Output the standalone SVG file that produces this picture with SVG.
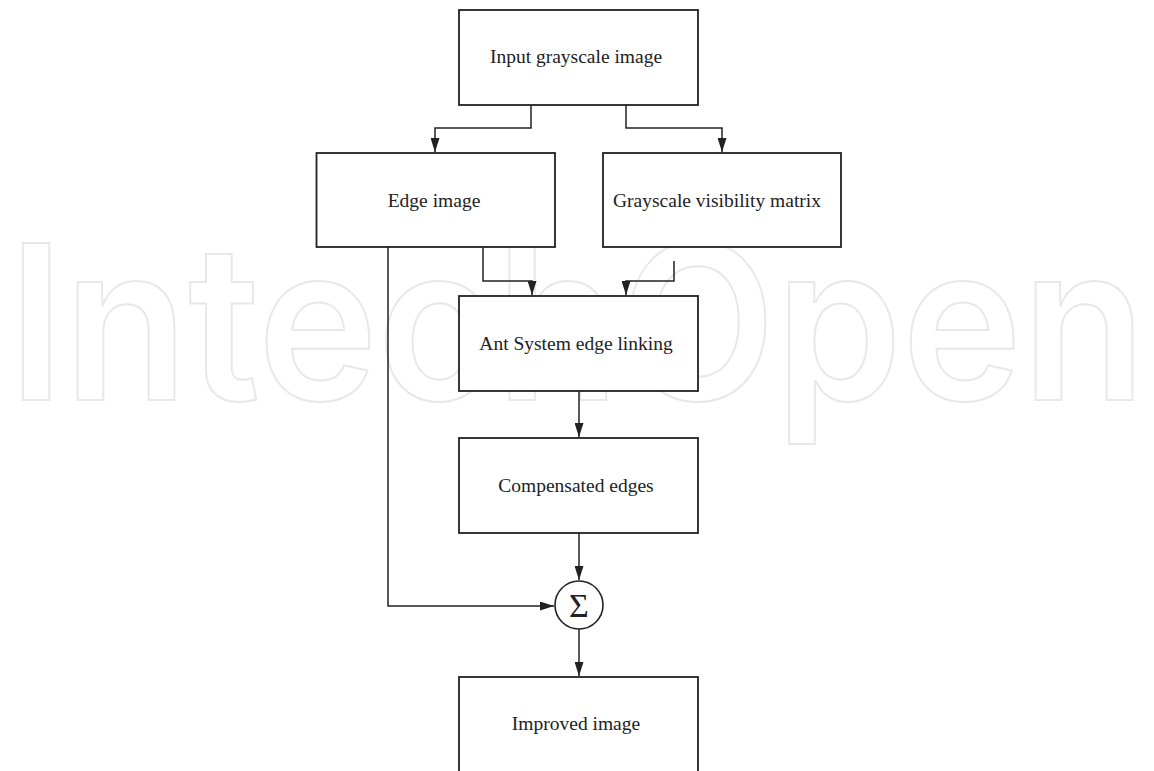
<svg xmlns="http://www.w3.org/2000/svg" width="1154" height="771" viewBox="0 0 1154 771">
<style>
.box{fill:#fff;stroke:#222;stroke-width:1.8}
.lbl{font-family:"Liberation Serif","Times New Roman",serif;font-size:19.5px;fill:#222;text-anchor:middle}
.conn{fill:none;stroke:#222;stroke-width:1.5}
.wm{font-family:Inter,"DejaVu Sans",sans-serif;font-size:216px;font-weight:600;fill:none;stroke:#e8e8e8;stroke-width:2}
</style>
<defs>
<marker id="arr" markerUnits="userSpaceOnUse" markerWidth="14" markerHeight="9" refX="14" refY="4.5" orient="auto">
<path d="M0,0 L14,4.5 L0,9 z" fill="#222"/>
</marker>
</defs>
<rect width="1154" height="771" fill="#fff"/>
<text class="wm" x="8" y="400" textLength="1138" lengthAdjust="spacingAndGlyphs">IntechOpen</text>
<g id="connectors">
<path class="conn" d="M531,105 V128 H435 V152" marker-end="url(#arr)"/>
<path class="conn" d="M626,105 V128 H722 V152" marker-end="url(#arr)"/>
<path class="conn" d="M483,247 V281 H532 V295" marker-end="url(#arr)"/>
<path class="conn" d="M674,261 V281 H626 V295" marker-end="url(#arr)"/>
<path class="conn" d="M388,247 V606 H554" marker-end="url(#arr)"/>
<path class="conn" d="M579,391 V437" marker-end="url(#arr)"/>
<path class="conn" d="M579,533 V580" marker-end="url(#arr)"/>
<path class="conn" d="M579,629 V676" marker-end="url(#arr)"/>
</g>
<g id="input">
<rect class="box" x="459" y="10" width="239" height="95"/>
<text class="lbl" x="576" y="63">Input grayscale image</text>
</g>
<g id="edge">
<rect class="box" x="316.5" y="153" width="238.5" height="94"/>
<text class="lbl" x="434" y="207">Edge image</text>
</g>
<g id="visibility">
<rect class="box" x="603" y="153" width="238" height="94"/>
<text class="lbl" x="717" y="207">Grayscale visibility matrix</text>
</g>
<g id="ant">
<rect class="box" x="459" y="296" width="239" height="95"/>
<text class="lbl" x="576" y="350">Ant System edge linking</text>
</g>
<g id="compensated">
<rect class="box" x="459" y="438" width="239" height="95"/>
<text class="lbl" x="576" y="492">Compensated edges</text>
</g>
<g id="sum">
<circle cx="579" cy="605" r="24" fill="#fff" stroke="#222" stroke-width="1.6"/>
<text x="579" y="617" font-family="Liberation Serif,serif" font-size="34" fill="#222" text-anchor="middle">Σ</text>
</g>
<g id="improved">
<rect class="box" x="459" y="677" width="239" height="110"/>
<text class="lbl" x="576" y="730">Improved image</text>
</g>
</svg>
